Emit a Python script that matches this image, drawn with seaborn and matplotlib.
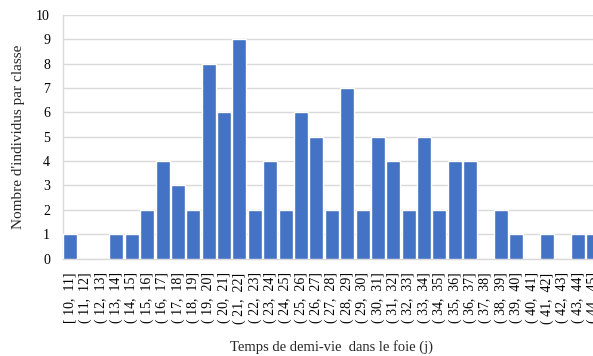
import matplotlib
matplotlib.use("Agg")
import matplotlib.pyplot as plt
import seaborn as sns
import pandas as pd

# Class bounds (days) and counts per class
lower = list(range(10, 45))
upper = list(range(11, 46))
counts = [1, 0, 0, 1, 1, 2, 4, 3, 2, 8, 6, 9, 2, 4, 2, 6, 5, 2, 7, 2,
          5, 4, 2, 5, 2, 4, 4, 0, 2, 1, 0, 1, 0, 1, 1]

labels = [("[ %d,  %d]" if i == 0 else "( %d,  %d]") % (a, b)
          for i, (a, b) in enumerate(zip(lower, upper))]
df = pd.DataFrame({"classe": labels, "n": counts})

sns.set_theme(style="white")
plt.rcParams["font.family"] = ["Liberation Serif", "DejaVu Serif"]

fig = plt.figure(figsize=(5.93, 3.56), dpi=100)
ax = fig.add_axes([62.5 / 593, 97.5 / 356, 538.5 / 593, 243.5 / 356])

sns.barplot(data=df, x="classe", y="n", color="#4472C4", saturation=1,
            width=0.91, ax=ax, zorder=3)

ax.set_ylim(0, 10)
ax.set_xlim(-0.5, len(labels) - 0.5)
ax.set_yticks(range(0, 11))
ax.yaxis.grid(True, color="#d9d9d9", linewidth=1.0, zorder=0)
ax.set_axisbelow(True)

for side in ("top", "right"):
    ax.spines[side].set_visible(False)
for side in ("left", "bottom"):
    ax.spines[side].set_color("#d9d9d9")
    ax.spines[side].set_linewidth(1.0)

ax.tick_params(axis="y", length=0, labelsize=10, pad=9, colors="black")
ax.tick_params(axis="x", length=0, labelsize=10, pad=10, labelrotation=90,
               colors="black")
ax.set_xticks(range(len(labels)), labels)
for t in ax.get_xticklabels():
    t.set_va("top")

# small category separators on the baseline
ax.set_xticks([i - 0.5 for i in range(len(labels) + 1)], minor=True)
ax.tick_params(axis="x", which="minor", direction="in", length=3,
               color="#d9d9d9", width=1)

ax.set_xlabel("Temps de demi-vie  dans le foie (j)", fontsize=10.5, labelpad=12)
ax.set_ylabel("Nombre d'individus par classe", fontsize=11, labelpad=8)

fig.savefig("out.png", dpi=100)
